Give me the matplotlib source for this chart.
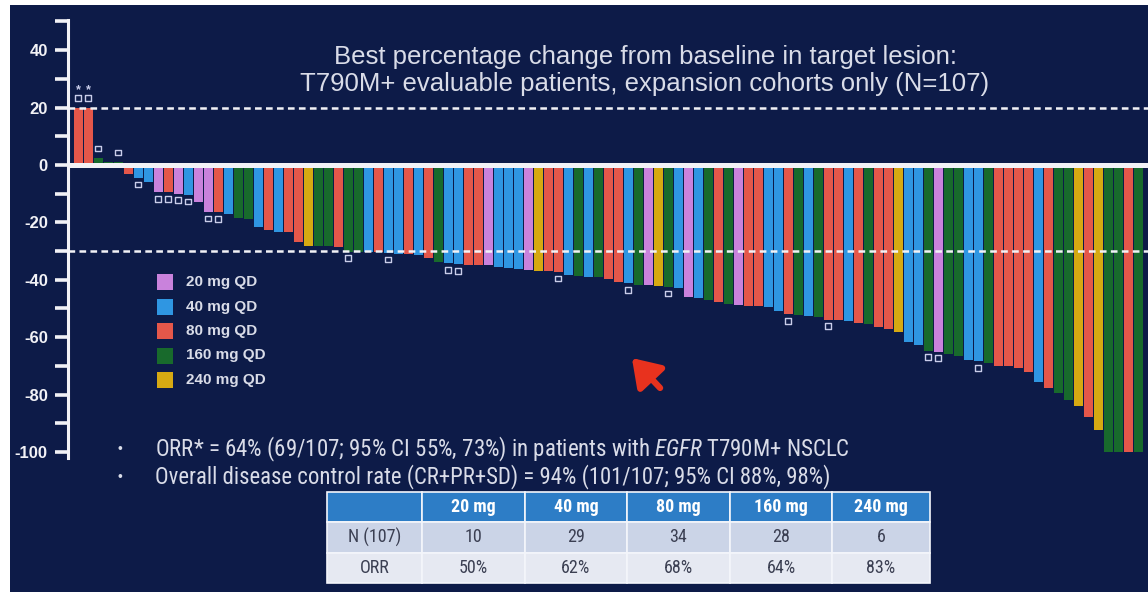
import matplotlib
matplotlib.use("Agg")
import matplotlib.pyplot as plt
from matplotlib import font_manager
from matplotlib.patches import Rectangle

# ---- data -------------------------------------------------------------
dose_labels = ["20 mg QD", "40 mg QD", "80 mg QD", "160 mg QD", "240 mg QD"]
dose_mg = [20, 40, 80, 160, 240]
dose_colors = ["#c982dc", "#2f96e2", "#e4574a", "#186a2c", "#d6a912"]

# best % change from baseline per patient (sorted waterfall order)
best_change = [
    20, 20, 2.5, 1, 1, -3, -4.5, -6, -9.5, -9.5,
    -10, -10.5, -13, -16.3, -16.5, -17, -18.5, -18.7, -21.6, -22.6,
    -23.2, -23.5, -26.8, -28.1, -28.3, -28.4, -28.5, -30.2, -30.3, -30.4,
    -30.5, -30.7, -31, -31.1, -31.5, -32.3, -33.7, -34.3, -34.6, -34.8,
    -34.8, -35, -35.6, -35.8, -36.1, -36.7, -36.8, -37, -37.3, -38.2,
    -38.6, -38.9, -38.9, -39.8, -40.8, -41.2, -41.7, -41.7, -42.1, -42.5,
    -43, -45.9, -46.3, -47, -47.8, -48.6, -48.8, -49, -49.1, -49.6,
    -50.9, -52, -52.2, -52.5, -53, -53.9, -54, -54.3, -55.2, -55.4,
    -56.5, -57.2, -58.3, -61.7, -62.8, -64.7, -65, -65.7, -66.4, -68,
    -68.4, -69.1, -70, -70.2, -70.6, -72, -75.5, -77.6, -79.4, -81.9,
    -84.1, -87.7, -92.3, -100, -100, -100, -100,
]

# dose (mg, once daily) received by each patient, same order
patient_dose = [
    80, 80, 160, 160, 160, 80, 40, 40, 20, 80,
    20, 40, 20, 20, 80, 40, 160, 160, 40, 80,
    40, 80, 80, 240, 160, 160, 80, 160, 160, 40,
    80, 40, 40, 80, 40, 80, 160, 40, 40, 80,
    80, 20, 40, 40, 40, 20, 240, 80, 80, 40,
    160, 40, 160, 80, 80, 40, 160, 20, 240, 160,
    40, 20, 40, 160, 80, 160, 20, 80, 80, 40,
    40, 80, 160, 40, 160, 80, 80, 40, 80, 160,
    80, 80, 240, 40, 40, 160, 20, 160, 160, 40,
    40, 160, 80, 80, 80, 80, 40, 80, 160, 160,
    240, 80, 240, 160, 160, 80, 160,
]

# patients flagged with a square marker (1-based position in the waterfall)
flagged = [1, 2, 3, 5, 7, 9, 10, 11, 12, 14, 15, 28, 32, 38, 39, 49, 56,
           60, 72, 76, 86, 87, 91]
# patients flagged with an asterisk
starred = [1, 2]

y_ticks = [40, 20, 0, -20, -40, -60, -80, -100]
pd_threshold = 20
pr_threshold = -30

title = ("Best percentage change from baseline in target lesion:\n"
         "T790M+ evaluable patients, expansion cohorts only (N=107)")
bullets = [
    r"ORR* = 64% (69/107; 95% CI 55%, 73%) in patients with $\mathit{EGFR}$ T790M+ NSCLC",
    "Overall disease control rate (CR+PR+SD) = 94% (101/107; 95% CI 88%, 98%)",
]
table_header = ["", "20 mg", "40 mg", "80 mg", "160 mg", "240 mg"]
table_n = [10, 29, 34, 28, 6]
table_orr = [50, 62, 68, 64, 83]

# ---- style ------------------------------------------------------------
W, H = 1148, 599
NAVY = "#0d1b48"
WHITE = "#f2f2f6"
TEXT = "#d9dce8"

available = {f.name for f in font_manager.fontManager.ttflist}
SANS = "Liberation Sans" if "Liberation Sans" in available else "DejaVu Sans"
NARROW = next((n for n in ["Liberation Sans Narrow", "Arial Narrow",
                           "Roboto Condensed", "Open Sans Condensed"]
               if n in available), SANS)
plt.rcParams["font.family"] = SANS
plt.rcParams["axes.unicode_minus"] = False
plt.rcParams["mathtext.fontset"] = "custom"
plt.rcParams["mathtext.rm"] = NARROW
plt.rcParams["mathtext.it"] = NARROW + ":italic"
plt.rcParams["lines.scale_dashes"] = False

fig = plt.figure(figsize=(W / 100, H / 100), dpi=100, facecolor="white")


def px_box(x0, y0, x1, y1):
    """figure-fraction rect from pixel corners (top-left origin)"""
    return [x0 / W, 1 - y1 / H, (x1 - x0) / W, (y1 - y0) / H]


# slide background
fig.patches.append(Rectangle((10 / W, 1 - 592 / H), 1, (592 - 5) / H,
                             transform=fig.transFigure, facecolor=NAVY,
                             edgecolor="none", zorder=-10))

# ---- waterfall --------------------------------------------------------
ax = fig.add_axes(px_box(68, 20, W, 457.7))
ax.set_facecolor("none")
n = len(best_change)
xpos = list(range(1, n + 1))
color_of = dict(zip(dose_mg, dose_colors))
ax.bar(xpos, best_change, width=0.9, color=[color_of[d] for d in patient_dose],
       linewidth=0, zorder=2)
ax.set_xlim(0, 108)
ax.set_ylim(-102, 50.5)

ax.axhline(0, color=WHITE, lw=3.6, zorder=4)
for yv in (pd_threshold, pr_threshold):
    ax.axhline(yv, color=WHITE, lw=1.8, dashes=(4.8, 3.1), zorder=3)

fx = [i for i in flagged]
fy = [best_change[i - 1] + (3.3 if best_change[i - 1] > 0 else -2.3) for i in flagged]
ax.scatter(fx, fy, marker="s", s=16, facecolor="none", edgecolor="#c9cdea",
           linewidth=1.0, zorder=5)
for i in starred:
    ax.text(i, best_change[i - 1] + 6.2, "*", color="#c9cdea", fontsize=9,
            ha="center", va="center", fontweight="bold")

for side in ("top", "right", "bottom"):
    ax.spines[side].set_visible(False)
ax.spines["left"].set_color(WHITE)
ax.spines["left"].set_linewidth(2.2)
ax.set_xticks([])
ax.set_yticks(y_ticks)
ax.set_yticks([50, 30, 10, -10, -30, -50, -70, -90], minor=True)
ax.tick_params(axis="y", which="both", direction="out", length=9.5, width=2.6,
               color=WHITE)
ax.tick_params(axis="y", which="major", labelsize=12, labelcolor=WHITE, pad=5)
for lab in ax.get_yticklabels():
    lab.set_fontweight("bold")

# ---- title & legend ---------------------------------------------------
fig.text(645 / W, 1 - 70.5 / H, title, ha="center", va="center",
         fontsize=18.5, color=TEXT, linespacing=1.2)

for k, (lab, col) in enumerate(zip(dose_labels, dose_colors)):
    yc = 282 + 24.5 * k
    fig.patches.append(Rectangle((157 / W, 1 - (yc + 8) / H), 16 / W, 16 / H,
                                 transform=fig.transFigure, facecolor=col,
                                 edgecolor="none"))
    fig.text(186 / W, 1 - yc / H, lab, ha="left", va="center", fontsize=11,
             fontweight="bold", color=TEXT)

# ---- bullet notes -----------------------------------------------------
fig.canvas.draw()
renderer = fig.canvas.get_renderer()
for txt, yc, target in zip(bullets, (449, 477), (693, 673)):
    fig.text(120 / W, 1 - yc / H, "\u2022", ha="center", va="center",
             fontsize=10, color=TEXT)
    t = fig.text(155 / W, 1 - yc / H, txt, ha="left", va="center",
                 fontsize=12, color=TEXT, family=NARROW)
    w = t.get_window_extent(renderer).width
    t.set_fontsize(12 * target / w)

# ---- summary table ----------------------------------------------------
tax = fig.add_axes(px_box(327, 492, 930, 583))
tax.axis("off")
cells = [table_header,
         ["N (107)"] + [str(v) for v in table_n],
         ["ORR"] + [f"{v}%" for v in table_orr]]
tbl = tax.table(cellText=cells, cellLoc="center", bbox=[0, 0, 1, 1],
                colWidths=[95, 103, 102, 103, 102, 98])
tbl.auto_set_font_size(False)
row_bg = ["#2d7dc6", "#cbd4e7", "#e6e9f2"]
for (r, c), cell in tbl.get_celld().items():
    cell.set_facecolor(row_bg[r])
    cell.set_edgecolor("#f4f6fb")
    cell.set_linewidth(1.2)
    cell.get_text().set_family(NARROW)
    cell.get_text().set_fontsize(13)
    if r == 0:
        cell.get_text().set_color("white")
        cell.get_text().set_fontweight("bold")
    else:
        cell.get_text().set_color("#3b3f52")

# pointer cursor on the slide
fig.add_artist(plt.Annotation("", xy=(630 / W, 1 - 356 / H), xycoords="figure fraction",
                              xytext=(662 / W, 1 - 390 / H), textcoords="figure fraction",
                              arrowprops=dict(arrowstyle="-|>,head_length=0.9,head_width=0.6",
                                              color="#e8321e", lw=4.5,
                                              mutation_scale=18)))

fig.savefig("out.png", dpi=100, facecolor=fig.get_facecolor())
